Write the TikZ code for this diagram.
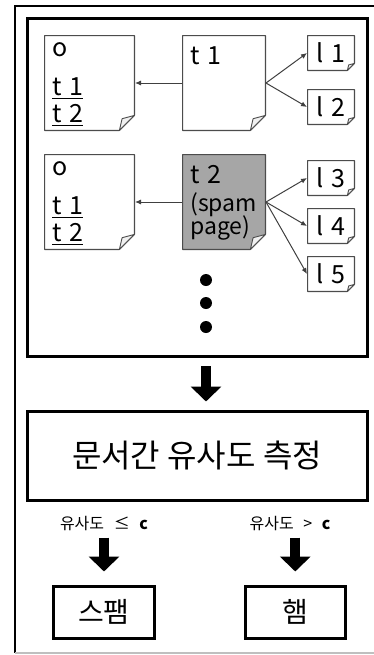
\documentclass[tikz,border=0pt]{standalone}
\usepackage{fontspec}
\setmainfont{Noto Sans CJK KR}
\usepackage{tikz}
\usetikzlibrary{arrows.meta}

% page outline with a curled lower-right corner (#1 fill, #2 fold size)
\newcommand{\dogear}[2]{%
  \coordinate (pgNW) at ([shift={(0.3pt,-0.3pt)}]path picture bounding box.north west);
  \coordinate (pgSE) at ([shift={(-0.3pt,0.3pt)}]path picture bounding box.south east);
  \filldraw[fill=#1, draw=black!70, line width=0.6pt, line join=round]
    (pgNW) -- (pgNW -| pgSE) -- ([yshift=#2]pgSE) -- ([xshift=-#2]pgSE)
    -- (pgNW |- pgSE) -- cycle;
  \filldraw[fill=black!6, draw=black!70, line width=0.45pt, line join=round]
    ([yshift=#2]pgSE) -- ([shift={(-0.82*#2,0.78*#2)}]pgSE) -- ([xshift=-#2]pgSE) -- cycle;
}
\newcommand{\gap}{\hspace{0.3em}}

\begin{document}
\begin{tikzpicture}[
			x=0.5pt, y=-0.5pt,
			% Document pages
			docpage/.style 2 args={
				inner sep=0pt,
				outer sep=0pt,
				path picture={\dogear{#1}{#2}}
			},
			pageOrigin/.style={
				docpage={white}{7.5pt},
				minimum width=45.5pt,
				minimum height=48pt
			},
			pageTerm/.style={
				docpage={white}{7.5pt},
				minimum width=42pt,
				minimum height=48pt
			},
			pageSpam/.style={
				docpage={black!35}{7.5pt},
				minimum width=42pt,
				minimum height=48pt
			},
			pageLink/.style={
				docpage={white}{3.5pt},
				minimum width=24pt,
				minimum height=18pt,
				font=\fontsize{12.5}{14}\selectfont
			},
			pagetext/.style={
				anchor=base west,
				inner sep=0pt,
				font=\fontsize{12.5}{14}\selectfont
			},
			link/.style={
				-{Latex[length=3pt,width=2.6pt]},
				black!75,
				line width=0.5pt
			},
			% Process boxes and block arrows
			frame/.style={
				draw,
				line width=1.5pt,
				inner sep=0pt
			},
			bigarrow/.style={
				-{Triangle[width=15pt,length=7.5pt]},
				line width=5pt
			},
			dot/.style={
				circle,
				fill=black,
				minimum size=6pt,
				inner sep=0pt
			},
			condition/.style={
				font=\fontsize{8}{9}\selectfont,
				inner sep=1pt
			}
			]
			
			\useasboundingbox (0,0) rectangle (374,655);
			
			% Outer frame (cropped at the right)
			\draw[line width=1.3pt] (374,6) -- (15,6) -- (15,653);
			\draw[black!25, line width=0.8pt] (15,653) -- (374,653);
			
			% Page collection
			\node[frame, minimum width=170pt, minimum height=169.25pt] (pages) at (197,187.25) {};
			
			% First row: page t1
			\node[pageOrigin] (orig1) at (89.5,83) {};
			\node[pageTerm]   (term1) at (224,83) {};
			\node[pageLink]   (link1) at (331,53) {l\gap1};
			\node[pageLink]   (link2) at (331,107) {l\gap2};
			
			\node[pagetext] (orig1o)  at (52,56)  {o};
			\node[pagetext] (orig1ta) at (52,95)  {\underline{t\gap1}};
			\node[pagetext] (orig1tb) at (52,122) {\underline{t\gap2}};
			\node[pagetext] (term1t)  at (190,64) {t\gap1};
			
			\draw[link] (term1.west) -- (orig1.east);
			\draw[link] (term1.east) -- (link1.west);
			\draw[link] (term1.east) -- (link2.west);
			
			% Second row: spam page t2
			\node[pageOrigin] (orig2) at (89.5,202) {};
			\node[pageSpam]   (term2) at (224,202) {};
			\node[pageLink]   (link3) at (331,178) {l\gap3};
			\node[pageLink]   (link4) at (331,226) {l\gap4};
			\node[pageLink]   (link5) at (331,274) {l\gap5};
			
			\node[pagetext] (orig2o)  at (52,175) {o};
			\node[pagetext] (orig2ta) at (52,214) {\underline{t\gap1}};
			\node[pagetext] (orig2tb) at (52,241) {\underline{t\gap2}};
			\node[pagetext] (term2t)  at (190,183) {t\gap2};
			\node[pagetext, font=\fontsize{11.5}{12}\selectfont] (term2s) at (190,211) {(spam};
			\node[pagetext, font=\fontsize{11.5}{12}\selectfont] (term2p) at (190,234) {page)};
			
			\draw[link] (term2.west) -- (orig2.east);
			\draw[link] (term2.east) -- (link3.west);
			\draw[link] (term2.east) -- (link4.west);
			\draw[link] (term2.east) -- (link5.west);
			
			% More pages
			\node[dot] (dot1) at (206,280) {};
			\node[dot] (dot2) at (206,303) {};
			\node[dot] (dot3) at (206,327) {};
			
			% Similarity measure
			\node[frame, minimum width=170pt, minimum height=44.25pt,
				font=\fontsize{16}{18}\selectfont] (measure) at (197,455.75)
				{문서간 유사도 측정};
			
			\draw[bigarrow, shorten <=4pt, shorten >=4.25pt]
				(dot3 |- pages.south) -- (dot3 |- measure.north);
			
			% Decision
			\node[condition] (lowsim)  at (104,523) {유사도\hspace{0.6em}≤\hspace{0.6em}\textbf{c}};
			\node[condition] (highsim) at (290,523) {유사도\hspace{0.6em}>\hspace{0.6em}\textbf{c}};
			
			\node[frame, minimum width=50.5pt, minimum height=26.25pt,
				font=\fontsize{14}{16}\selectfont] (spam) at (104,612.25) {스팸};
			\node[frame, minimum width=50pt, minimum height=26.25pt,
				font=\fontsize{14}{16}\selectfont] (ham) at (295.25,612.25) {햄};
			
			\draw[bigarrow, shorten <=2.5pt, shorten >=6.5pt]
				(spam.north |- lowsim.south) -- (spam.north);
			\draw[bigarrow, shorten <=2.5pt, shorten >=6.5pt]
				(ham.north |- highsim.south) -- (ham.north);
			
		\end{tikzpicture}
\end{document}
